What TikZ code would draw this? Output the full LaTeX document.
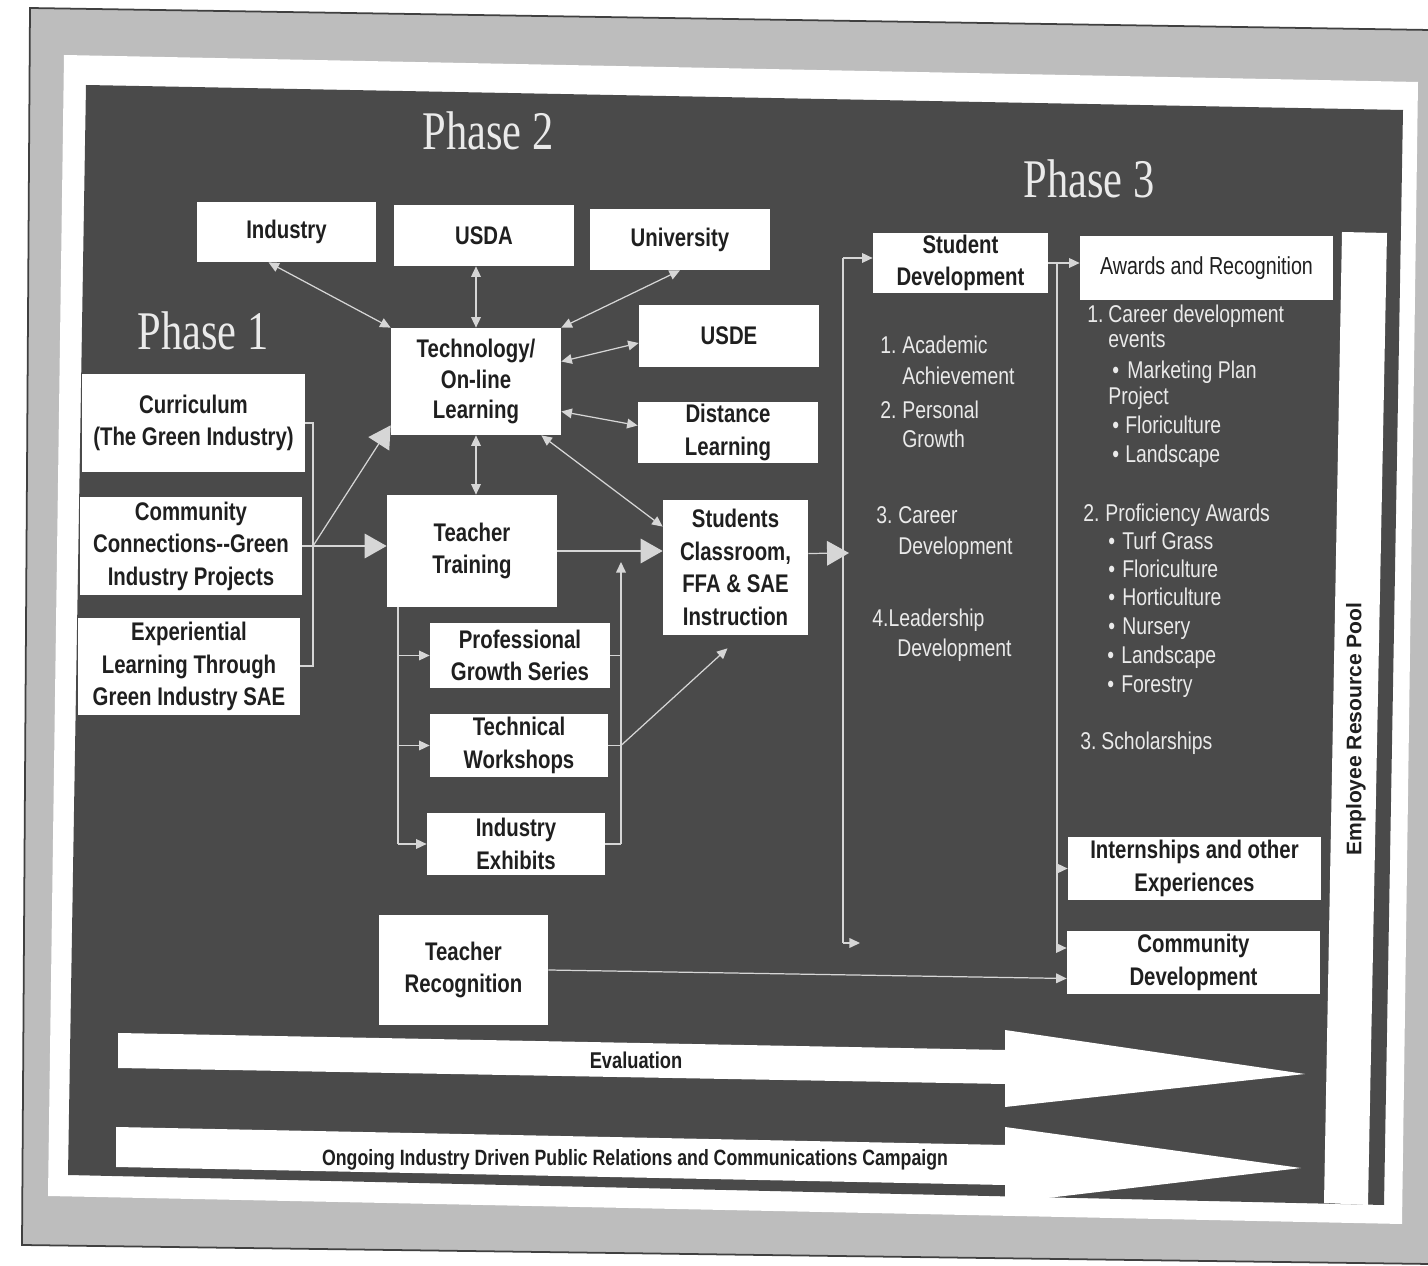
\documentclass[tikz,border=0pt]{standalone}
\usepackage{fontspec}
\setmainfont{Liberation Sans}
\newfontfamily\nar{Liberation Sans}[FakeStretch=0.8]
\newfontfamily\ser{Liberation Serif}[FakeStretch=0.78]
\usetikzlibrary{arrows.meta,calc}
\definecolor{slide}{HTML}{4A4A4A}
\definecolor{paper}{HTML}{BDBDBD}
\definecolor{conn}{HTML}{D6D6D6}
\definecolor{ltxt}{HTML}{EAEAEA}
\tikzset{
  wbox/.style={fill=white, draw=none, inner sep=0pt, align=center,
    font=\nar\bfseries\fontsize{14.5}{18.5}\selectfont, text=black!88},
  rbox/.style={wbox, font=\nar\fontsize{14}{18}\selectfont},
  phase/.style={font=\ser\fontsize{31}{31}\selectfont, text=ltxt, inner sep=0pt},
  ltext/.style={font=\nar\fontsize{13.8}{16}\selectfont, text=ltxt, inner sep=0pt,
    anchor=west, text height=9.7pt, text depth=2.8pt},
  bartext/.style={font=\nar\bfseries\fontsize{13}{15}\selectfont, text=black!88, inner sep=0pt},
  conn/.style={draw=conn, line width=0.7pt},
  sarr/.style={conn, -{Triangle[length=6pt,width=5.5pt]}},
  dbl/.style={conn, {Triangle[length=6pt,width=5.5pt]}-{Triangle[length=6pt,width=5.5pt]}},
  barr/.style={conn, -{Triangle[length=12.5pt,width=14pt]}}
}
\newcommand\mybox[7][wbox]{\node[#1, minimum width={(#5-#3)*0.02cm}, minimum height={(#6-#4)*0.02cm}] (#2) at ({(#3+#5)/2},{(#4+#6)/2}) {#7};}
\newcommand\litem[4]{\node[ltext] (#1) at (#2,#3) {#4};}
\begin{document}
\begin{tikzpicture}[x=0.02cm,y=-0.02cm]
\useasboundingbox (0,0) rectangle (1428,1266);
\fill[white] (0,0) rectangle (1428,1266);
% scanned page
\filldraw[fill=paper, draw=black!75, line width=1pt] (30,8) -- (1430,30) -- (1430,1264) -- (22,1245) -- cycle;
\fill[white] (64,55) -- (1418,82) -- (1402,1224) -- (48,1196) -- cycle;
\fill[slide] (86,85) -- (1403,110) -- (1384,1205) -- (68,1175) -- cycle;
% bottom arrows
\fill[white] (118,1033) -- (1005,1050) -- (1005,1030) -- (1305,1074) -- (1005,1107) -- (1005,1084) -- (118,1068) -- cycle;
\fill[white] (116,1127) -- (1005,1145) -- (1005,1127) -- (1301,1168) -- (1005,1203) -- (1005,1185) -- (116,1167) -- cycle;
\node[bartext] (evaltxt) at (636,1060) {Evaluation};
\node[bartext, font=\nar\bfseries\fontsize{12.6}{15}\selectfont] (prtxt) at (635,1160) {Ongoing Industry Driven Public Relations and Communications Campaign};
% employee resource pool bar
\fill[white] (1342,232) -- (1387,233) -- (1368,1205) -- (1324,1203) -- cycle;
\node[rotate=90, font=\bfseries\fontsize{12}{12}\selectfont, text=black!88, inner sep=0pt] (erp) at (1356,729) {Employee Resource Pool};
% phase titles
\node[phase] (ph1) at (203,331) {Phase 1};
\node[phase] (ph2) at (488,131) {Phase 2};
\node[phase] (ph3) at (1089,179) {Phase 3};
% boxes
\mybox{industry}{197}{202}{376}{262}{Industry}
\mybox{usda}{394}{205}{574}{266}{USDA}
\mybox{univ}{590}{209}{770}{270}{University}
\mybox{usde}{639}{305}{819}{367}{USDE}
\mybox[wbox, font=\nar\bfseries\fontsize{14.5}{17.3}\selectfont]{tech}{391}{328}{561}{435}{Technology/\\On-line\\Learning}
\mybox{dist}{638}{402}{818}{463}{Distance\\Learning}
\mybox{ttrain}{387}{495}{557}{607}{Teacher\\Training}
\mybox{stud}{663}{500}{808}{635}{Students\\Classroom,\\FFA \& SAE\\Instruction}
\mybox{prof}{430}{623}{610}{688}{Professional\\Growth Series}
\mybox{techws}{430}{714}{608}{777}{Technical\\Workshops}
\mybox{exhib}{427}{813}{605}{875}{Industry\\Exhibits}
\mybox{trec}{379}{915}{548}{1025}{Teacher\\Recognition}
\mybox{curr}{82}{374}{305}{472}{Curriculum\\(The Green Industry)}
\mybox{comm}{80}{497}{302}{595}{Community\\Connections-\kern0pt-Green\\Industry Projects}
\mybox{exper}{78}{618}{300}{715}{Experiential\\Learning Through\\Green Industry SAE}
\mybox{sdev}{873}{233}{1048}{293}{Student\\Development}
\mybox[rbox]{awards}{1080}{236}{1333}{300}{Awards and Recognition}
\mybox{intern}{1068}{837}{1321}{900}{Internships and other\\Experiences}
\mybox{cdev}{1067}{931}{1320}{994}{Community\\Development}
% phase 1 bracket
\coordinate (p1t) at (313,423);
\coordinate (p1m) at (313,546);
\coordinate (p1b) at (313,666);
\draw[conn] (curr.east |- p1t) -- (p1t) -- (p1b) -- (exper.east |- p1b);
\draw[conn] (comm.east) -- (p1m);
\draw[barr] (p1m) -- ([yshift=0.2cm]tech.south west);
\draw[barr] (p1m) -- (p1m -| ttrain.west);
% technology hub
\draw[dbl] ([xshift=-0.36cm]industry.south) -- (tech.north west);
\draw[dbl] (tech.north |- usda.south) -- (tech.north);
\draw[dbl] (univ.south) -- (tech.north east);
\draw[dbl] ([yshift=0.4cm]tech.east) -- ([yshift=-0.14cm]usde.west);
\draw[dbl] ([yshift=-0.6cm]tech.east) -- ([yshift=0.14cm]dist.west);
\draw[dbl] (tech.south) -- (tech.south |- ttrain.north);
\draw[dbl] ([xshift=-0.4cm]tech.south east) -- ([yshift=-0.54cm]stud.north west);
\draw[barr] (ttrain.east) -- (ttrain.east -| stud.west);
% teacher training bracket
\coordinate (tb) at (398,607);
\draw[conn] (tb) -- (tb |- exhib.west);
\draw[sarr] (tb |- prof.west) -- (prof.west);
\draw[sarr] (tb |- techws.west) -- (techws.west);
\draw[sarr] (tb |- exhib.west) -- (exhib.west);
% right bracket to students
\coordinate (rb) at (621,562);
\draw[conn] (prof.east) -- (rb |- prof.east);
\draw[conn] (techws.east) -- (rb |- techws.east);
\draw[conn] (exhib.east) -- (rb |- exhib.east);
\draw[sarr] (rb |- exhib.east) -- (rb);
\draw[sarr] (rb |- techws.east) -- ([xshift=-0.16cm,yshift=-0.26cm]stud.south);
% to phase 3
\coordinate (l3in) at (849,553);
\coordinate (l3top) at (843,258);
\coordinate (l3bot) at (843,943);
\coordinate (l3end) at (860,943);
\draw[barr] ([yshift=0.28cm]stud.east) -- (l3in);
\draw[conn] (l3top) -- (l3bot);
\draw[sarr] (l3top) -- (l3top -| sdev.west);
\draw[sarr] (l3bot) -- (l3end);
\coordinate (r3top) at (1057,263);
\coordinate (r3bot) at (1057,948);
\draw[conn] (sdev.east) -- (r3top) -- (r3bot);
\draw[sarr] (r3top) -- (r3top -| awards.west);
\draw[sarr] (r3top |- intern.west) -- (intern.west);
\draw[sarr] (r3bot) -- (r3bot -| cdev.west);
\draw[sarr] (trec.east) -- ([yshift=-0.32cm]cdev.west);
% student development list
\litem{a1}{880}{347}{1.}\litem{a1t}{902}{347}{Academic}
\litem{a1u}{902}{378}{Achievement}
\litem{a2}{880}{412}{2.}\litem{a2t}{902}{412}{Personal}
\litem{a2u}{902}{441}{Growth}
\litem{a3}{876}{517}{3.}\litem{a3t}{898}{517}{Career}
\litem{a3u}{898}{548}{Development}
\litem{a4}{872}{620}{4.Leadership}
\litem{a4u}{897}{650}{Development}
% awards list
\litem{b1}{1087}{316}{1.}\litem{b1t}{1108}{316}{Career development}
\litem{b1u}{1108}{341}{events}
\litem{b1a}{1112}{372}{\textbullet}\litem{b1at}{1127}{372}{Marketing Plan}
\litem{b1b}{1108}{398}{Project}
\litem{b1c}{1112}{427}{\textbullet}\litem{b1ct}{1125}{427}{Floriculture}
\litem{b1d}{1112}{456}{\textbullet}\litem{b1dt}{1125}{456}{Landscape}
\litem{b2}{1083}{515}{2.}\litem{b2t}{1105}{515}{Proficiency Awards}
\litem{b2a}{1108}{543}{\textbullet}\litem{b2at}{1122}{543}{Turf Grass}
\litem{b2b}{1108}{571}{\textbullet}\litem{b2bt}{1122}{571}{Floriculture}
\litem{b2c}{1108}{599}{\textbullet}\litem{b2ct}{1122}{599}{Horticulture}
\litem{b2d}{1108}{628}{\textbullet}\litem{b2dt}{1122}{628}{Nursery}
\litem{b2e}{1107}{657}{\textbullet}\litem{b2et}{1121}{657}{Landscape}
\litem{b2f}{1107}{686}{\textbullet}\litem{b2ft}{1121}{686}{Forestry}
\litem{b3}{1080}{743}{3.}\litem{b3t}{1101}{743}{Scholarships}
\end{tikzpicture}
\end{document}
